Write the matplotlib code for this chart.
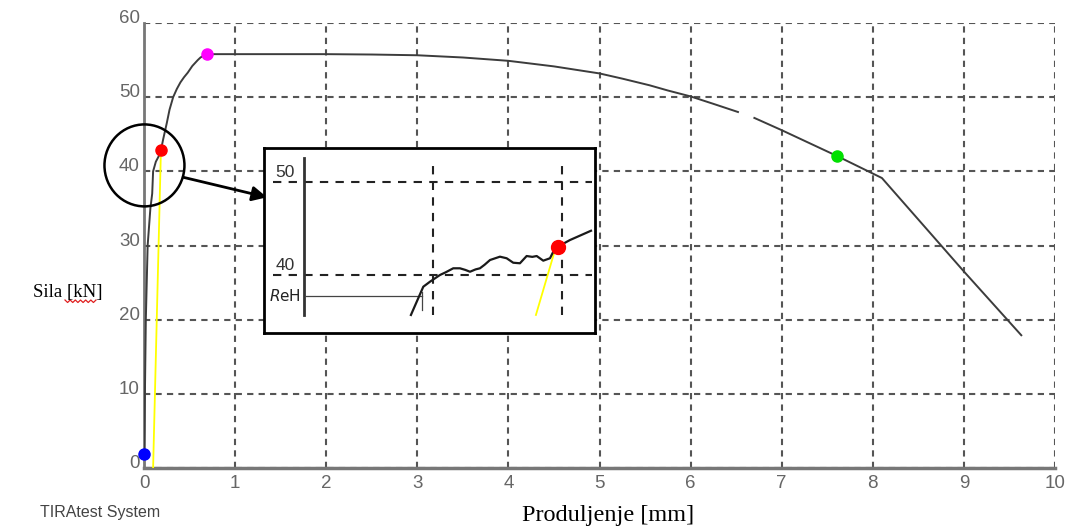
import numpy as np
import matplotlib
matplotlib.use("Agg")
import matplotlib.pyplot as plt
from matplotlib.patches import Ellipse
from matplotlib.lines import Line2D

# main tensile curve: elongation [mm] vs force [kN] (NaN = gap in the trace)
elong = [0.0, 0.005, 0.01, 0.02, 0.04, 0.07, 0.09, 0.10, 0.13, 0.16, 0.187,
         0.21, 0.23, 0.25, 0.28, 0.32, 0.36, 0.40, 0.44, 0.48, 0.53, 0.59,
         0.62, 0.66, 0.69, 1.0, 2.0, 2.5, 3.0, 3.5, 4.0, 4.5, 5.0, 5.25, 5.55,
         5.75, 6.0, 6.25, 6.52, np.nan, 6.70, 7.0, 7.61, 8.1, 9.0, 9.63]
force = [1.9, 5.0, 10.0, 20.0, 30.0, 35.0, 37.0, 40.0, 41.3, 42.0, 42.9,
         44.3, 45.4, 46.5, 48.3, 50.0, 51.1, 52.0, 52.7, 53.3, 54.2, 55.0,
         55.35, 55.65, 55.8, 55.8, 55.8, 55.75, 55.65, 55.35, 54.9, 54.15, 53.2,
         52.5, 51.6, 50.9, 50.1, 49.1, 48.0, np.nan, 47.2, 45.55, 42.05, 39.1,
         26.5, 17.9]

# yellow offset line
yel_x = [0.10, 0.185]
yel_y = [0.0, 42.5]

# marked points
pts_x = [0.0, 0.187, 0.69, 7.61]
pts_y = [1.9, 42.9, 55.8, 42.05]
pts_c = ["#0000ff", "#ff0000", "#ff00ff", "#00e000"]

# zoomed detail around ReH
zx = [0.0829, 0.0925, 0.0977, 0.1054, 0.1100, 0.1157, 0.1209, 0.1250, 0.1287,
      0.1330, 0.1364, 0.1400, 0.1442, 0.1519, 0.1571, 0.1622, 0.1674, 0.1726,
      0.1770, 0.1804, 0.1855, 0.1907, 0.1946, 0.1967, 0.2062, 0.2225]
zy = [35.70, 38.74, 39.28, 40.00, 40.30, 40.72, 40.72, 40.55, 40.35,
      40.60, 40.72, 41.10, 41.61, 41.97, 41.80, 41.32, 41.26, 42.04,
      41.95, 42.04, 41.54, 41.80, 42.87, 43.04, 43.76, 44.76]
z_yel_x = [0.1798, 0.1946]
z_yel_y = [35.70, 42.69]
reh = 37.77

xticks = list(range(0, 11))
yticks = list(range(0, 61, 10))

tickfont = ["Liberation Sans Narrow", "Liberation Sans", "DejaVu Sans"]

fig = plt.figure(figsize=(10.7, 5.3), dpi=100)
ax = fig.add_axes([144 / 1070, 62 / 530, 911 / 1070, 445 / 530])
ax.set_xlim(0, 10)
ax.set_ylim(0, 60)
ax.set_xticks(xticks)
ax.set_yticks(yticks)
ax.grid(True, color="#555555", linestyle=(0, (3, 2.5)), linewidth=1.5)
for s in ["top", "right"]:
    ax.spines[s].set_visible(False)
ax.spines["left"].set_color("#777777")
ax.spines["left"].set_linewidth(2)
ax.spines["bottom"].set_color("#777777")
ax.spines["bottom"].set_linewidth(2.5)
ax.tick_params(length=0, colors="#666666")
ax.tick_params(axis="x", pad=5)
ax.tick_params(axis="y", pad=3)
for lab in ax.get_xticklabels() + ax.get_yticklabels():
    lab.set_family(tickfont)
    lab.set_fontsize(13.5)
for lab in ax.get_yticklabels():
    lab.set_verticalalignment("baseline")

ax.plot(yel_x, yel_y, color="#ffff00", lw=1.3, zorder=3)
ax.plot(elong, force, color="#3c3c3c", lw=1.4, zorder=4)
for x, y, c in zip(pts_x, pts_y, pts_c):
    ax.plot(x, y, "o", color=c, ms=8, zorder=5, clip_on=False)

# circle and arrow to the detail box
ax.add_patch(Ellipse((0.005, 40.8), 0.878, 11.05, fill=False, ec="black",
                     lw=1.8, clip_on=False, zorder=6))
ax.annotate("", xy=(1.35, 36.5), xytext=(0.43, 39.2),
            arrowprops=dict(arrowstyle="-|>", color="black", lw=2,
                            mutation_scale=22, shrinkA=0, shrinkB=0),
            zorder=6)

# detail box
ins = fig.add_axes([264 / 1070, 197 / 530, 331 / 1070, 185 / 530])
ins.set_xlim(-0.031, 0.2256)
ins.set_ylim(33.76, 53.66)
ins.set_xticks([])
ins.set_yticks([])
for s in ins.spines.values():
    s.set_linewidth(2)
    s.set_color("black")
for yv in [40, 50]:
    ins.plot([-0.024, 0.2233], [yv, yv], color="#222222", lw=1.5,
             linestyle=(0, (4, 3.5)))
    ins.text(-0.0145, yv + 0.2, str(yv), ha="center", va="bottom",
             family=tickfont, fontsize=12.5, color="#333333")
for xv in [0.1, 0.2]:
    ins.plot([xv, xv], [35.7, 52.15], color="#222222", lw=1.5,
             linestyle=(0, (4, 3.5)))
ins.plot([0, 0], [35.7, 52.6], color="#333333", lw=2)
ins.plot([0.0008, 0.0912], [reh, reh], color="#444444", lw=0.9)
ins.plot([0.0912, 0.0912], [36.2, 38.2], color="#444444", lw=0.9)
ins.text(-0.0145, reh, r"$\mathit{R}$eH", ha="center", va="center",
         fontsize=11, color="#222222")
ins.plot(z_yel_x, z_yel_y, color="#ffff00", lw=1.3)
ins.plot(zx, zy, color="#1a1a1a", lw=1.6)
ins.plot(0.1967, 43.04, "o", color="#ff0000", ms=10)

# labels
fig.text(68 / 1070, 1 - 292 / 530, "Sila [kN]", ha="center", va="center",
         family="Liberation Serif", fontsize=13.5)
fig.text(608 / 1070, 1 - 516 / 530, "Produljenje [mm]", ha="center",
         va="center", family="Liberation Serif", fontsize=17.5)
fig.text(40 / 1070, 1 - 512 / 530, "TIRAtest System", ha="left",
         va="center", family="Liberation Sans", fontsize=11.5, color="#444444")

# spell-check squiggle under "kN"
sq_x = np.linspace(65, 96, 13)
sq_y = np.where(np.arange(13) % 2 == 0, 300, 302.5)
fig.add_artist(Line2D(sq_x / 1070, 1 - sq_y / 530, transform=fig.transFigure,
                      color="#e02020", lw=0.9))

fig.savefig("out.png", dpi=100)
